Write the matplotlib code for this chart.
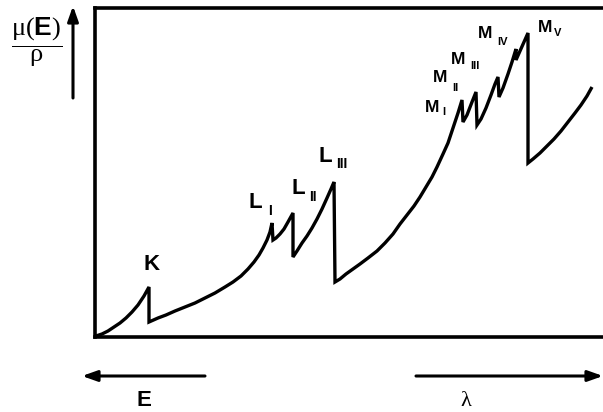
import matplotlib
matplotlib.use("Agg")
import matplotlib.pyplot as plt
from matplotlib.patches import FancyArrowPatch

plt.rcParams['mathtext.fontset'] = 'custom'
plt.rcParams['mathtext.rm'] = 'Liberation Serif'
plt.rcParams['mathtext.it'] = 'Liberation Serif:italic'
plt.rcParams['mathtext.bf'] = 'Liberation Sans:bold'

W, H = 603, 412

# Absorption curve (x: toward lower energy / longer wavelength, y: mu/rho)
curve_x = [1, 7, 13, 19, 25, 31, 37, 43, 49, 54, 54,
           63, 71, 80, 90, 100, 110, 120, 130, 138, 146, 153, 159, 164, 168, 172, 175, 177, 178,
           181, 185, 189, 193, 198, 198,
           202, 207, 212, 217, 222, 227, 232, 236, 239, 240,
           245, 251, 258, 265, 273, 282, 290, 298, 305, 312, 319, 325, 331, 337, 342, 348, 353,
           358, 363, 367, 368,
           372, 377, 381, 382,
           386, 391, 396, 400, 403, 404,
           408, 413, 417, 421, 421,
           425, 429, 433, 433,
           438, 445, 452, 459, 466, 473, 480, 486, 492, 497]
curve_y = [1, 3, 6, 10, 14, 19, 25, 32, 41, 50, 15,
           19, 22, 26, 30, 34, 39, 44, 50, 55, 61, 68, 75, 82, 89, 97, 105, 114, 97,
           99, 103, 108, 115, 124, 80,
           86, 94, 101, 109, 118, 128, 139, 148, 155, 55,
           58, 63, 68, 73, 79, 86, 94, 103, 113, 122, 131, 140, 150, 160, 170, 183, 194,
           209, 224, 237, 215,
           222, 235, 245, 212,
           218, 229, 242, 253, 260, 240,
           249, 263, 275, 288, 277,
           286, 295, 304, 174,
           178, 184, 191, 198, 206, 215, 224, 232, 241, 250]

# Edge labels
edge_names = ["K", "L", "L", "L", "M", "M", "M", "M", "M"]
edge_subs = ["", "I", "II", "III", "I", "II", "III", "IV", "V"]

fig = plt.figure(figsize=(W / 100, H / 100), dpi=100)
ax = fig.add_axes([95 / W, (H - 337) / H, (W - 95) / W, (337 - 8) / H])
ax.plot(curve_x, curve_y, color='black', lw=2.4, solid_joinstyle='miter', solid_capstyle='butt')
ax.set_xlim(0, W - 95)
ax.set_ylim(0, 337 - 8)
ax.set_xticks([])
ax.set_yticks([])
for s in ['left', 'bottom', 'top']:
    ax.spines[s].set_linewidth(2.6)
ax.spines['right'].set_visible(False)


def fp(px, py):
    return (px / W, (H - py) / H)


main_pos = [(152, 265), (255, 203), (298, 188), (325, 156), (432, 107), (440, 78), (458, 59), (485, 33), (545, 27)]
sub_pos = [None, (270, 211), (313, 197), (342, 164), (444, 112), (455, 88), (475, 66), (502, 42), (558, 33)]
main_sizes = [16, 16, 16, 16, 12.5, 12.5, 12.5, 12.5, 12.5]
sub_sizes = [0, 10, 10, 10, 8, 8, 8, 8, 8]
for name, sub, mp, sp, ms, ss in zip(edge_names, edge_subs, main_pos, sub_pos, main_sizes, sub_sizes):
    fig.text(*fp(*mp), name, fontsize=ms, fontweight='bold', family='Liberation Sans',
             ha='center', va='center')
    if sub:
        fig.text(*fp(*sp), sub, fontsize=ss, fontweight='bold', family='Liberation Sans',
                 ha='center', va='center')

# Y label as fraction
fig.text(*fp(37, 42), r'$\dfrac{\mathrm{\mu}(\mathbf{E})}{\mathrm{\rho}}$', fontsize=19,
         ha='center', va='center')

arrow_kw = dict(arrowstyle='-|>,head_length=0.45,head_width=0.16', color='black', lw=2.2,
                shrinkA=0, shrinkB=0, mutation_scale=20)
fig.add_artist(FancyArrowPatch(fp(73, 98), fp(73, 6), transform=fig.transFigure, **arrow_kw))
fig.add_artist(FancyArrowPatch(fp(205, 376), fp(82, 376), transform=fig.transFigure, **arrow_kw))
fig.add_artist(FancyArrowPatch(fp(416, 376), fp(603, 376), transform=fig.transFigure, **arrow_kw))

fig.text(*fp(144, 400), "E", fontsize=16, fontweight='bold', family='Liberation Sans',
         ha='center', va='center')
fig.text(*fp(466, 401), "λ", fontsize=16, family='Liberation Serif', ha='center', va='center')

fig.savefig("out.png", dpi=100)
